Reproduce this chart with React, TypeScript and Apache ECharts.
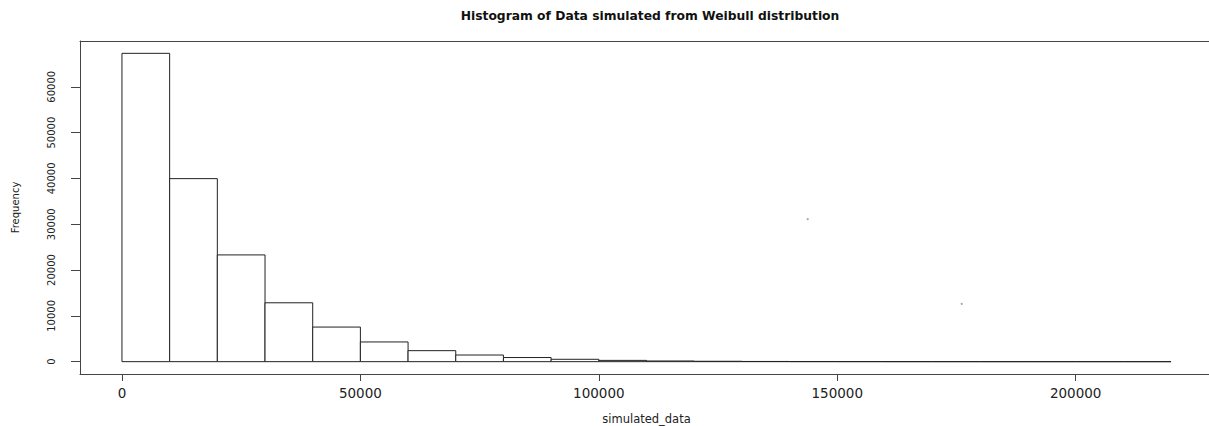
import React, { useEffect, useRef } from "react";
import * as echarts from "echarts";

// Histogram bins (left edges) and counts
const binWidth = 10000;
const binStarts = [
  0, 10000, 20000, 30000, 40000, 50000, 60000, 70000, 80000, 90000, 100000,
  110000, 120000, 130000, 140000, 150000, 160000, 170000, 180000, 190000,
  200000, 210000,
];
const counts = [
  67300, 39950, 23300, 12850, 7550, 4300, 2400, 1450, 900, 520, 280, 150, 85,
  45, 25, 13, 7, 4, 2, 1, 1, 1,
];
const xTicks = [0, 50000, 100000, 150000, 200000];
const yTicks = [0, 10000, 20000, 30000, 40000, 50000, 60000];
// two faint stray points visible in the reference
const strayX = [143800, 176100];
const strayY = [31100, 12600];

const titleText = "Histogram of Data simulated from Weibull distribution";
const xName = "simulated_data";
const yName = "Frequency";

export default function App() {
  const ref = useRef<HTMLDivElement>(null);

  useEffect(() => {
    if (!ref.current) return;
    const chart = echarts.init(ref.current, undefined, { renderer: "svg" });

    const data = binStarts.map((s, i) => [s, s + binWidth, counts[i]]);
    const xLo = binStarts[0];
    const xHi = binStarts[binStarts.length - 1] + binWidth;
    const xPad = (xHi - xLo) * 0.04;
    const yMax = Math.max(...counts);
    const yPad = yMax * 0.04;

    const font = "DejaVu Sans";
    const ink = "#222";
    const boxLine = { show: true, lineStyle: { color: "#444", width: 1 } };

    chart.setOption({
      animation: false,
      backgroundColor: "#fff",
      title: {
        text: titleText,
        left: 645,
        top: 5,
        textAlign: "center",
        textStyle: {
          fontFamily: font,
          fontWeight: "bold",
          fontSize: 12.3,
          color: "#111",
        },
      },
      grid: {
        left: 80,
        top: 41,
        width: 1133,
        height: 333,
        outerBoundsMode: "none",
        containLabel: false,
        show: false,
      },
      xAxis: [
        {
          type: "value",
          position: "bottom",
          min: xLo - xPad,
          max: xHi + xPad,
          name: xName,
          nameLocation: "middle",
          nameGap: 39,
          nameTextStyle: { fontFamily: font, fontSize: 11.5, color: ink },
          axisLine: { ...boxLine, onZero: false },
          splitLine: { show: false },
          axisTick: {
            show: true,
            inside: false,
            length: 7,
            customValues: xTicks,
            lineStyle: { color: "#444" },
          },
          axisLabel: {
            show: true,
            customValues: xTicks,
            formatter: (v: number) => String(v),
            margin: 12,
            fontFamily: font,
            fontSize: 13.5,
            color: ink,
          },
        },
        {
          type: "value",
          position: "top",
          min: xLo - xPad,
          max: xHi + xPad,
          axisLine: { ...boxLine, onZero: false },
          axisTick: { show: false },
          axisLabel: { show: false },
          splitLine: { show: false },
        },
      ],
      yAxis: {
        type: "value",
        min: -yPad,
        max: yMax + yPad,
        name: yName,
        nameLocation: "middle",
        nameRotate: 90,
        nameGap: 60,
        nameTextStyle: { fontFamily: font, fontSize: 10, color: ink },
        axisLine: { ...boxLine, onZero: false },
        splitLine: { show: false },
        axisTick: {
          show: true,
          inside: false,
          length: 9,
          customValues: yTicks,
          lineStyle: { color: "#444" },
        },
        axisLabel: {
          show: true,
          customValues: yTicks,
          formatter: (v: number) => String(v),
          rotate: 90,
          margin: 24,
          fontFamily: font,
          fontSize: 10,
          color: ink,
        },
      },
      series: [
        {
          type: "custom",
          data,
          xAxisIndex: 0,
          encode: { x: [0, 1], y: 2 },
          renderItem: (params: any, api: any) => {
            const x0 = api.value(0);
            const x1 = api.value(1);
            const c = api.value(2);
            const p0 = api.coord([x0, 0]);
            const p1 = api.coord([x1, c]);
            return {
              type: "rect",
              shape: {
                x: p0[0],
                y: p1[1],
                width: p1[0] - p0[0],
                height: p0[1] - p1[1],
              },
              style: { fill: "#fff", stroke: "#222", lineWidth: 1 },
            };
          },
        },
        {
          type: "scatter",
          xAxisIndex: 0,
          data: strayX.map((x, i) => [x, strayY[i]]),
          symbolSize: 2,
          itemStyle: { color: "#888" },
        },
      ],
    });

    return () => {
      chart.dispose();
    };
  }, []);

  return (
    <div
      ref={ref}
      style={{ position: "fixed", left: 0, top: 0, width: 1209, height: 426 }}
    />
  );
}
